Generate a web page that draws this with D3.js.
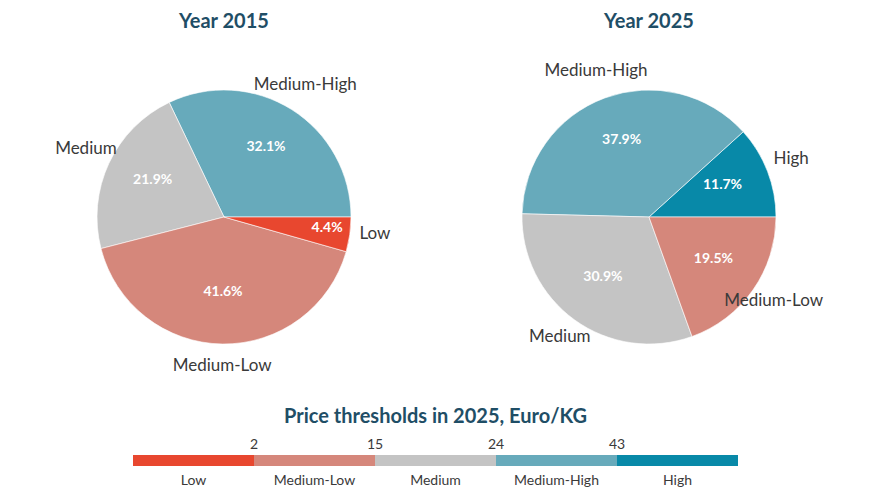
<!DOCTYPE html>
<html>
<head>
<meta charset="utf-8">
<script src="https://cdn.jsdelivr.net/npm/d3@7"></script>
<style>
  html, body { margin: 0; padding: 0; background: #fff; }
  svg { display: block; }
</style>
</head>
<body>
<svg id="chart" width="874" height="493"></svg>
<script>
// shares per price class, as printed on the pies
const CATEGORIES = ["Low", "Medium-Low", "Medium", "Medium-High", "High"];
const COLORS     = ["#e8472f", "#d5877b", "#c4c4c4", "#67aabb", "#0889a8"];

const YEARS = ["Year 2015", "Year 2025"];
// order is the drawing order, counter-clockwise from 3 o'clock
const PIE_2015_LABELS = ["Medium-High", "Medium", "Medium-Low", "Low"];
const PIE_2015_VALUES = [32.1, 21.9, 41.6, 4.4];
const PIE_2025_LABELS = ["High", "Medium-High", "Medium", "Medium-Low"];
const PIE_2025_VALUES = [11.7, 37.9, 30.9, 19.5];

const THRESHOLDS = [2, 15, 24, 43];
const LEGEND_TITLE = "Price thresholds in 2025, Euro/KG";

const FONT = "Lato, 'Source Sans Pro', 'Noto Sans', sans-serif";
const TITLE_COLOR = "#1f4e66";
const TEXT_COLOR = "#3a3a3a";

const svg = d3.select("#chart");
const color = d3.scaleOrdinal().domain(CATEGORIES).range(COLORS);

function drawPie(cx, cy, r, title, labels, values) {
  const g = svg.append("g").attr("transform", `translate(${cx},${cy})`);
  const data = labels.map((l, i) => ({ label: l, value: values[i] }));

  // d3 angles run clockwise from 12 o'clock; start at 3 o'clock going ccw
  const pie = d3.pie().value(d => d.value).sort(null)
    .startAngle(Math.PI / 2).endAngle(Math.PI / 2 - 2 * Math.PI);
  const arcs = pie(data);
  const arc = d3.arc().innerRadius(0).outerRadius(r);

  g.selectAll("path.slice")
    .data(arcs)
    .join("path")
    .attr("class", "slice")
    .attr("d", arc)
    .attr("fill", d => color(d.data.label))
    .attr("stroke", "#fff")
    .attr("stroke-width", 0.6);

  const mid = d => (d.startAngle + d.endAngle) / 2;
  const pos = (d, k) => [Math.sin(mid(d)) * r * k, -Math.cos(mid(d)) * r * k];
  const pctK = d => d.data.value < 6 ? 0.82 : 0.62;

  g.selectAll("text.pct")
    .data(arcs)
    .join("text")
    .attr("class", "pct")
    .attr("x", d => pos(d, pctK(d))[0])
    .attr("y", d => pos(d, pctK(d))[1] - 5)
    .attr("text-anchor", "middle")
    .attr("dominant-baseline", "central")
    .attr("fill", "#fff")
    .attr("font-family", FONT)
    .attr("font-weight", "bold")
    .attr("font-size", 14)
    .text(d => `${d.data.value.toFixed(1)}%`);

  g.selectAll("text.lbl")
    .data(arcs)
    .join("text")
    .attr("class", "lbl")
    .attr("x", d => pos(d, 1.2)[0])
    .attr("y", d => pos(d, 1.2)[1] - 5)
    .attr("text-anchor", "middle")
    .attr("dominant-baseline", "central")
    .attr("fill", TEXT_COLOR)
    .attr("font-family", FONT)
    .attr("font-size", 17)
    .text(d => d.data.label);

  svg.append("text")
    .attr("x", cx).attr("y", 28)
    .attr("text-anchor", "middle")
    .attr("fill", TITLE_COLOR)
    .attr("font-family", FONT)
    .attr("font-weight", "bold")
    .attr("font-size", 20)
    .text(title);
}

drawPie(224, 217, 127, YEARS[0], PIE_2015_LABELS, PIE_2015_VALUES);
drawPie(649, 217, 127, YEARS[1], PIE_2025_LABELS, PIE_2025_VALUES);

// legend colour bar
const barX0 = 133, barX1 = 738, barY = 455, barH = 11;
const band = d3.scaleBand().domain(CATEGORIES).range([barX0, barX1]);
const lg = svg.append("g");

lg.append("text")
  .attr("x", (barX0 + barX1) / 2).attr("y", 423)
  .attr("text-anchor", "middle")
  .attr("fill", TITLE_COLOR)
  .attr("font-family", FONT)
  .attr("font-weight", "bold")
  .attr("font-size", 20)
  .text(LEGEND_TITLE);

lg.selectAll("rect")
  .data(CATEGORIES)
  .join("rect")
  .attr("x", d => band(d)).attr("y", barY)
  .attr("width", band.bandwidth()).attr("height", barH)
  .attr("fill", d => color(d));

lg.selectAll("text.thr")
  .data(THRESHOLDS)
  .join("text")
  .attr("class", "thr")
  .attr("x", (d, i) => band(CATEGORIES[i + 1]))
  .attr("y", 449)
  .attr("text-anchor", "middle")
  .attr("fill", TEXT_COLOR)
  .attr("font-family", FONT)
  .attr("font-size", 14)
  .text(d => d);

lg.selectAll("text.cat")
  .data(CATEGORIES)
  .join("text")
  .attr("class", "cat")
  .attr("x", d => band(d) + band.bandwidth() / 2)
  .attr("y", 485)
  .attr("text-anchor", "middle")
  .attr("fill", TEXT_COLOR)
  .attr("font-family", FONT)
  .attr("font-size", 14)
  .text(d => d);
</script>
</body>
</html>
